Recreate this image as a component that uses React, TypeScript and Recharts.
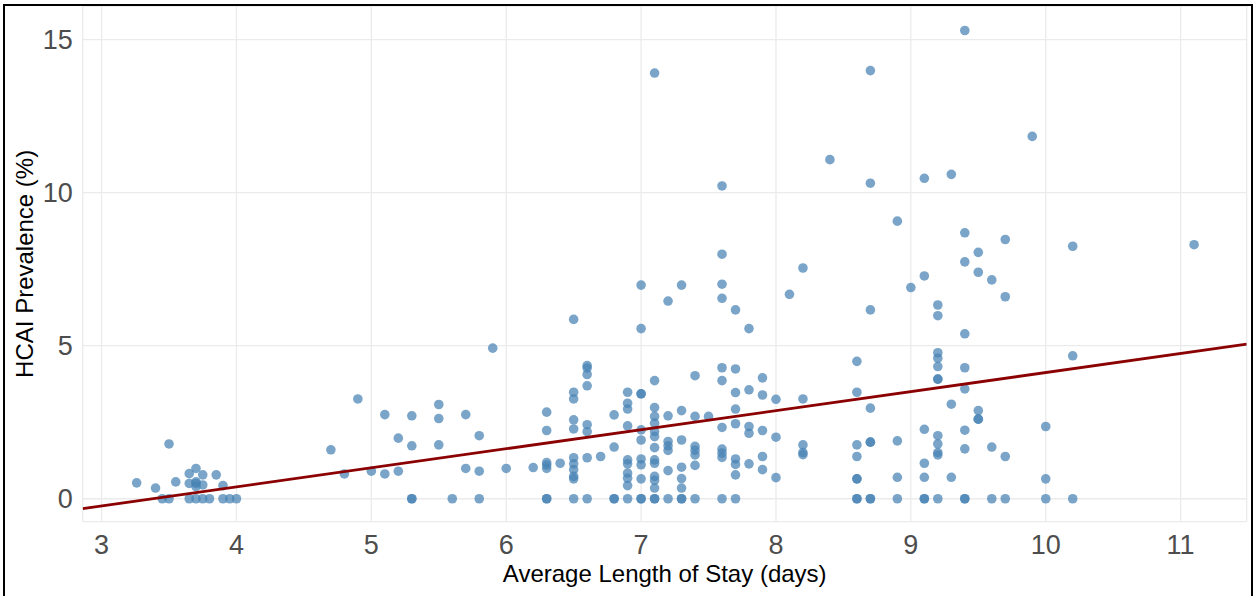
import React from 'react';
import { ScatterChart, Scatter, XAxis, YAxis, CartesianGrid, Label } from 'recharts';

// Average length of stay (days) for each hospital
const losDays: number[] = [
  3.26, 3.4, 3.45, 3.5, 3.5, 3.55, 3.65, 3.7, 3.75, 3.85, 3.65, 3.7, 3.75, 3.7, 3.7, 3.9, 3.65, 3.7, 3.75, 3.8, 3.9, 3.95, 4.0,
  4.7, 4.8, 4.9, 5.0, 5.1, 5.1, 5.2, 5.2, 5.3, 5.3, 5.3, 5.3, 5.5, 5.5, 5.5, 5.6, 5.7, 5.7, 5.8, 5.8, 5.8, 5.9, 6.0, 6.2,
  6.3, 6.3, 6.3, 6.3, 6.3, 6.3, 6.3, 6.4,
  6.5, 6.5, 6.5, 6.5, 6.5, 6.5, 6.5, 6.5, 6.5, 6.5, 6.5,
  6.6, 6.6, 6.6, 6.6, 6.6, 6.6, 6.6, 6.6,
  6.7,
  6.8, 6.8, 6.8, 6.8,
  6.9, 6.9, 6.9, 6.9, 6.9, 6.9, 6.9, 6.9, 6.9, 6.9,
  7.0, 7.0, 7.0, 7.0, 7.0, 7.0, 7.0, 7.0, 7.0, 7.0, 7.0,
  7.1, 7.1, 7.1, 7.1, 7.1, 7.1, 7.1, 7.1, 7.1, 7.1, 7.1, 7.1, 7.1, 7.1, 7.1,
  7.2, 7.2, 7.2, 7.2, 7.2, 7.2, 7.2,
  7.3, 7.3, 7.3, 7.3, 7.3, 7.3, 7.3, 7.3,
  7.4, 7.4, 7.4, 7.4, 7.4, 7.4, 7.4,
  7.5,
  7.6, 7.6, 7.6, 7.6, 7.6, 7.6, 7.6, 7.6, 7.6, 7.6, 7.6,
  7.7, 7.7, 7.7, 7.7, 7.7, 7.7, 7.7, 7.7, 7.7,
  7.8, 7.8, 7.8, 7.8, 7.8,
  7.9, 7.9, 7.9, 7.9, 7.9,
  8.0, 8.0, 8.0,
  8.1,
  8.2, 8.2, 8.2, 8.2, 8.2,
  8.4,
  8.6, 8.6, 8.6, 8.6, 8.6, 8.6, 8.6, 8.6,
  8.7, 8.7, 8.7, 8.7, 8.7, 8.7, 8.7, 8.7,
  8.9, 8.9, 8.9, 8.9,
  9.0,
  9.1, 9.1, 9.1, 9.1, 9.1, 9.1, 9.1,
  9.2, 9.2, 9.2, 9.2, 9.2, 9.2, 9.2, 9.2, 9.2, 9.2, 9.2, 9.2,
  9.3, 9.3, 9.3,
  9.4, 9.4, 9.4, 9.4, 9.4, 9.4, 9.4, 9.4, 9.4, 9.4,
  9.5, 9.5, 9.5, 9.5, 9.5,
  9.6, 9.6, 9.6,
  9.7, 9.7, 9.7, 9.7,
  9.9,
  10.0, 10.0, 10.0,
  10.2, 10.2, 10.2,
  11.1,
];

// HCAI prevalence (%) for each hospital, same order as losDays
const hcaiPct: number[] = [
  0.52, 0.35, 0, 0, 1.79, 0.55, 0.82, 0.99, 0.78, 0.78, 0.5, 0.55, 0.45, 0.4, 0.5, 0.43, 0, 0, 0, 0, 0, 0, 0,
  1.6, 0.81, 3.26, 0.9, 2.75, 0.81, 1.98, 0.9, 2.71, 1.73, 0, 0, 3.08, 2.62, 1.76, 0, 2.75, 0.99, 2.06, 0.9, 0, 4.92, 0.99, 1.02,
  2.83, 2.23, 1.18, 1.1, 0.99, 0, 0, 1.16,
  5.86, 3.48, 3.26, 2.58, 2.28, 1.34, 1.14, 0.95, 0.73, 0.65, 0,
  4.35, 4.27, 4.06, 3.69, 2.42, 2.19, 1.34, 0,
  1.38,
  2.74, 1.69, 0, 0,
  3.48, 3.12, 2.93, 2.38, 1.27, 1.14, 0.84, 0.67, 0.43, 0,
  6.98, 5.56, 3.43, 3.43, 2.25, 1.92, 1.3, 1.11, 0.65, 0, 0,
  13.91, 3.86, 2.98, 2.69, 2.47, 2.2, 2.03, 1.67, 1.27, 1.16, 0.73, 0.6, 0.35, 0, 0,
  6.46, 2.71, 1.87, 1.73, 1.58, 0.92, 0,
  6.98, 2.88, 1.92, 1.03, 0.66, 0.35, 0, 0,
  4.02, 2.69, 1.71, 1.58, 1.43, 1.09, 0,
  2.69,
  10.22, 7.99, 7.01, 6.55, 4.28, 3.86, 2.33, 1.62, 1.49, 1.35, 0,
  6.17, 4.24, 3.47, 2.93, 2.45, 1.3, 1.12, 0.78, 0,
  5.56, 3.56, 2.36, 2.14, 1.14,
  3.95, 3.39, 2.23, 1.38, 0.95,
  3.25, 2.01, 0.69,
  6.68,
  7.54, 3.26, 1.76, 1.51, 1.44,
  11.08,
  4.49, 3.48, 1.76, 1.38, 0.65, 0.65, 0, 0,
  13.99, 10.31, 6.17, 2.96, 1.85, 1.85, 0, 0,
  9.07, 1.89, 0.7, 0,
  6.9,
  10.47, 7.28, 2.27, 1.16, 0.7, 0, 0,
  6.33, 5.98, 4.77, 4.59, 4.32, 3.91, 3.91, 2.06, 1.79, 1.51, 1.43, 0,
  10.6, 3.09, 0.7,
  15.3, 8.69, 7.74, 5.39, 4.28, 3.59, 2.24, 1.63, 0, 0,
  8.05, 7.4, 2.88, 2.6, 2.6,
  7.15, 1.69, 0,
  8.47, 6.6, 1.38, 0,
  11.84,
  2.36, 0.65, 0,
  8.25, 4.67, 0,
  8.3,
];

// Fitted regression line end points (x, y) across the panel
const fitX: number[] = [2.86, 11.49];
const fitY: number[] = [-0.32, 5.05];

const xTicks: number[] = [3, 4, 5, 6, 7, 8, 9, 10, 11];
const yTicks: number[] = [0, 5, 10, 15];

const points = losDays.map((x, i) => ({ x, y: hcaiPct[i] }));
const fitLine = fitX.map((x, i) => ({ x, y: fitY[i] }));

const FONT = '"Liberation Sans", Arial, Helvetica, sans-serif';

const Dot = (props: any) => {
  const { cx, cy } = props;
  if (cx == null || cy == null) return <g />;
  return <circle cx={cx} cy={cy} r={4.8} fill="#4682B4" fillOpacity={0.72} />;
};

const NoDot = () => <g />;

export default function App() {
  return (
    <div style={{ position: 'absolute', left: 0, top: 0, width: 1254, height: 596, overflow: 'hidden', background: '#fff' }}>
      <ScatterChart width={1254} height={596} margin={{ top: 6, right: 7.3, bottom: 0, left: 0 }}>
        <CartesianGrid stroke="#ebebeb" strokeWidth={1.3} />
        <XAxis
          type="number"
          dataKey="x"
          domain={[2.86, 11.49]}
          ticks={xTicks}
          allowDataOverflow
          axisLine={false}
          tickLine={false}
          tickSize={0}
          tickMargin={13}
          height={74.3}
          tick={{ fill: '#4d4d4d', fontSize: 27, fontFamily: FONT }}
        >
          <Label
            value="Average Length of Stay (days)"
            position="insideBottom"
            offset={14}
            style={{ fill: '#000', fontSize: 24, fontFamily: FONT }}
          />
        </XAxis>
        <YAxis
          type="number"
          dataKey="y"
          domain={[-0.75, 16.1]}
          ticks={yTicks}
          allowDataOverflow
          axisLine={false}
          tickLine={false}
          tickSize={0}
          tickMargin={10}
          width={82.7}
          tick={{ fill: '#4d4d4d', fontSize: 27, fontFamily: FONT }}
        >
          <Label
            content={(p: any) => {
              const vb = p.viewBox || { x: 0, y: 0, width: 0, height: 0 };
              const cx = vb.x + 33;
              const cy = vb.y + vb.height / 2;
              return (
                <text
                  x={cx}
                  y={cy}
                  transform={`rotate(-90, ${cx}, ${cy})`}
                  textAnchor="middle"
                  fill="#000"
                  fontSize={24}
                  fontFamily={FONT}
                >
                  HCAI Prevalence (%)
                </text>
              );
            }}
          />
        </YAxis>
        <Scatter data={points} shape={Dot} isAnimationActive={false} />
        <Scatter
          data={fitLine}
          shape={NoDot}
          line={{ stroke: '#8B0000', strokeWidth: 2.8 }}
          isAnimationActive={false}
        />
      </ScatterChart>
      <div
        style={{
          position: 'absolute',
          left: 3,
          top: 4,
          width: 1250,
          height: 700,
          boxSizing: 'border-box',
          border: '2.5px solid #000',
          pointerEvents: 'none',
        }}
      />
    </div>
  );
}
